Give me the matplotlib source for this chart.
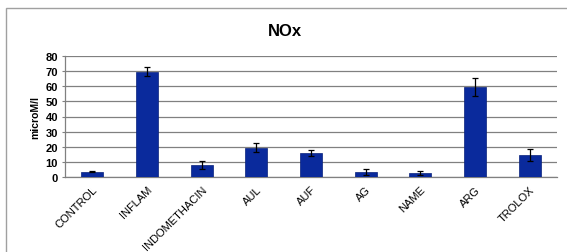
import matplotlib
matplotlib.use("Agg")
import matplotlib.pyplot as plt
from matplotlib.patches import Rectangle
import numpy as np

categories = ["CONTROL", "INFLAM", "INDOMETHACIN", "AUL", "AUF", "AG", "NAME", "ARG", "TROLOX"]
values = [3.5, 69.6, 7.8, 19.5, 15.7, 3.2, 2.7, 59.7, 14.5]
errors = [0.4, 2.9, 2.6, 3.2, 2.0, 1.9, 1.3, 6.0, 3.9]
yticks = [0, 10, 20, 30, 40, 50, 60, 70, 80]

plt.rcParams['font.family'] = ['Liberation Sans', 'DejaVu Sans']

W, H = 567, 253
fig = plt.figure(figsize=(W / 100, H / 100), dpi=100)
fig.patch.set_facecolor("white")

# outer frame (cut off on the right and bottom)
fig.add_artist(Rectangle((6 / W, -0.1), 1.2, (H - 9) / H + 0.1, transform=fig.transFigure,
                         fill=False, edgecolor="#a0a0a0", linewidth=1.0))

ax = fig.add_axes([65 / W, 1 - 178 / H, (557 - 65) / W, (178 - 57) / H])
x = np.arange(len(categories))
ax.bar(x, values, width=0.4, color="#0A2A9C", edgecolor="#08207a", linewidth=0.5, zorder=3)
ax.errorbar(x, values, yerr=errors, fmt="none", ecolor="black", elinewidth=0.9,
            capsize=2.5, capthick=0.9, zorder=4)

ax.set_xlim(-0.5, len(categories) - 0.5)
ax.set_ylim(0, 80)
ax.set_yticks(yticks)
ax.set_yticklabels([str(v) for v in yticks], fontsize=8, fontweight="bold")
ax.set_xticks(x)
ax.set_xticklabels(categories, rotation=45, ha="right", rotation_mode="anchor", fontsize=8)
ax.tick_params(axis="y", length=2, width=0.8, color="#808080", pad=3)
ax.tick_params(axis="x", length=0, pad=5)
ax.grid(axis="y", color="#808080", linewidth=0.9, zorder=0)
for s in ["top", "right"]:
    ax.spines[s].set_visible(False)
for s in ["left", "bottom"]:
    ax.spines[s].set_color("#808080")
    ax.spines[s].set_linewidth(0.9)
ax.set_ylabel("microM/l", fontsize=7.5, fontweight="bold", labelpad=4)

fig.text(285 / W, 1 - 32 / H, "NOx", ha="center", va="center", fontsize=12, fontweight="bold")

fig.savefig("out.png", dpi=100)
